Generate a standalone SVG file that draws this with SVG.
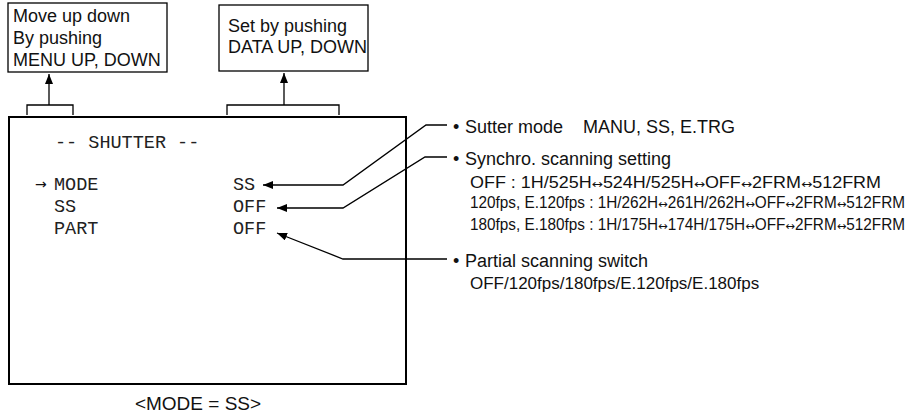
<svg xmlns="http://www.w3.org/2000/svg" width="920" height="417" viewBox="0 0 920 417">
<style>
.sans{font-family:"Liberation Sans",Arial,sans-serif;font-size:18px;fill:#111}
.small{font-family:"Liberation Sans",Arial,sans-serif;font-size:16px;fill:#111}
.mono{font-family:"Liberation Mono","Courier New",monospace;font-size:18.5px;fill:#222}
.ar{font-family:"DejaVu Sans",sans-serif;font-size:12px}
.box{fill:#fff;stroke:#000;stroke-width:1.3}
.ln{fill:none;stroke:#000;stroke-width:1.3}
</style>
<defs>
<marker id="ah" viewBox="0 0 10 8" refX="10" refY="4" markerWidth="10" markerHeight="8" markerUnits="userSpaceOnUse" orient="auto">
<path d="M0,0 L10,4 L0,8 Z" fill="#000"/>
</marker>
</defs>
<g id="menu-box">
<rect class="box" x="8" y="3" width="159" height="69"/>
<text class="sans" x="13" y="22">Move up down</text>
<text class="sans" x="13" y="44">By pushing</text>
<text class="sans" x="13" y="66">MENU UP, DOWN</text>
</g>
<g id="data-box">
<rect class="box" x="219" y="5" width="149" height="66"/>
<text class="sans" x="228" y="32">Set by pushing</text>
<text class="sans" x="228" y="53">DATA UP, DOWN</text>
</g>
<g id="screen">
<rect x="9" y="117" width="397" height="267" fill="#fff" stroke="#000" stroke-width="2"/>
<text class="mono" x="55" y="148">-- SHUTTER --</text>
<text x="35" y="189" style="font-family:'DejaVu Sans',sans-serif;font-size:14px;fill:#111">→</text>
<text class="mono" x="54" y="190">MODE</text>
<text class="mono" x="54" y="212">SS</text>
<text class="mono" x="54" y="234">PART</text>
<text class="mono" x="233" y="190">SS</text>
<text class="mono" x="233" y="212">OFF</text>
<text class="mono" x="233" y="234">OFF</text>
</g>
<g id="notes">
<text class="sans" x="453" y="133">•</text>
<text class="sans" x="465" y="133">Sutter mode <tspan x="583">MANU, SS, E.TRG</tspan></text>
<text class="sans" x="453" y="165">•</text>
<text class="sans" x="465" y="165">Synchro. scanning setting</text>
<text class="small" x="470" y="188" textLength="411" lengthAdjust="spacingAndGlyphs">OFF : 1H/525H<tspan class="ar">↔</tspan>524H/525H<tspan class="ar">↔</tspan>OFF<tspan class="ar">↔</tspan>2FRM<tspan class="ar">↔</tspan>512FRM</text>
<text class="small" x="470" y="208" textLength="435" lengthAdjust="spacingAndGlyphs">120fps, E.120fps : 1H/262H<tspan class="ar">↔</tspan>261H/262H<tspan class="ar">↔</tspan>OFF<tspan class="ar">↔</tspan>2FRM<tspan class="ar">↔</tspan>512FRM</text>
<text class="small" x="470" y="230" textLength="435" lengthAdjust="spacingAndGlyphs">180fps, E.180fps : 1H/175H<tspan class="ar">↔</tspan>174H/175H<tspan class="ar">↔</tspan>OFF<tspan class="ar">↔</tspan>2FRM<tspan class="ar">↔</tspan>512FRM</text>
<text class="sans" x="453" y="267">•</text>
<text class="sans" x="465" y="267">Partial scanning switch</text>
<text class="small" x="470" y="289" style="font-size:17px">OFF/120fps/180fps/E.120fps/E.180fps</text>
</g>
<g id="caption">
<text class="sans" x="198" y="410" text-anchor="middle" style="font-size:19px">&lt;MODE = SS&gt;</text>
</g>
<g id="connectors">
<path class="ln" d="M27,115 V105 H73 V115"/>
<path class="ln" d="M49,105 V74" marker-end="url(#ah)"/>
<path class="ln" d="M227,115 V105 H339 V115"/>
<path class="ln" d="M284,105 V73" marker-end="url(#ah)"/>
<path class="ln" d="M447,125 H426 L343,185 H263" marker-end="url(#ah)"/>
<path class="ln" d="M447,157 H425 L343,208 H277" marker-end="url(#ah)"/>
<path class="ln" d="M447,259 H343 L277,233" marker-end="url(#ah)"/>
</g>
</svg>
